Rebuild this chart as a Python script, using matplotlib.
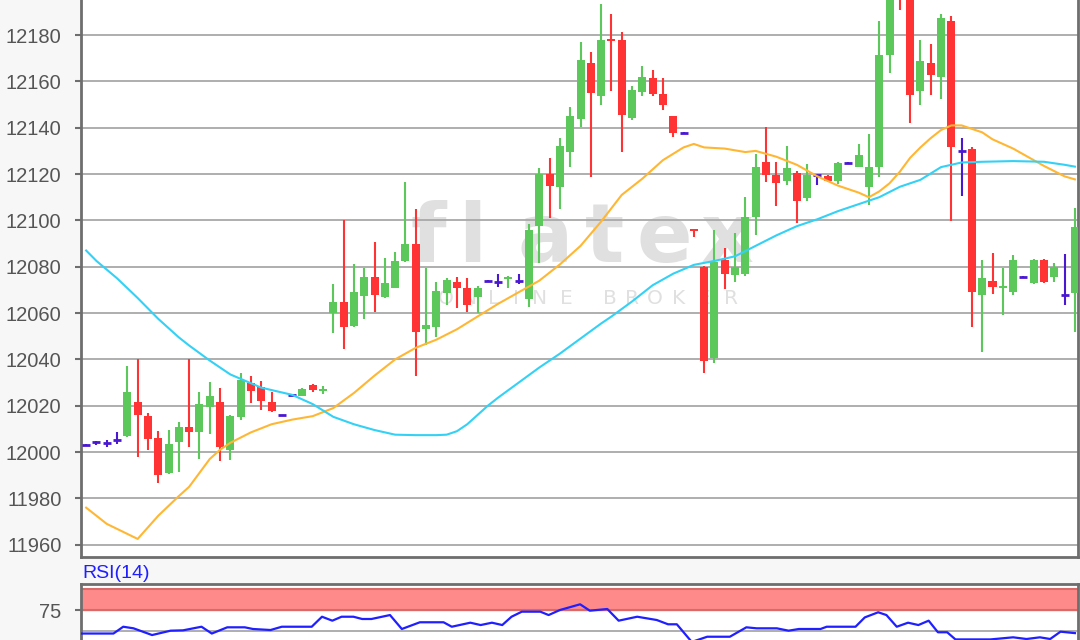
# Candlestick chart with two moving averages and RSI(14) panel
# flatex style intraday chart

import numpy as np
import matplotlib.pyplot as plt

plt.rcParams['font.family'] = ['Liberation Sans', 'DejaVu Sans']

# Candle data
opens = [12003, 12004.5, 12003.7, 12005, 12007, 12021.5, 12015.5, 12006, 11991, 12004.5,
         12011, 12008.5, 12019.6, 12021.5, 12001, 12015, 12030, 12028, 12021.5, 12016,
         12024.6, 12024, 12029, 12026.5, 12060, 12064.6, 12054.4, 12067.5, 12075.7, 12066.8,
         12071, 12082.4, 12089.6, 12053, 12054, 12068.5, 12073.5, 12070.7, 12066.8, 12074,
         12073.5, 12074.5, 12073.8, 12066, 12097.7, 12120, 12114.3, 12129.6, 12143.6, 12168,
         12153.8, 12178.3, 12177.8, 12144, 12155.5, 12161.3, 12154.4, 12145, 12137.8, 12096,
         12080, 12040.4, 12083, 12076.4, 12076.8, 12101.3, 12125, 12119.6, 12117.1, 12120.3,
         12109.5, 12119.6, 12119, 12117, 12124.9, 12123.2, 12114.5, 12123.2, 12171.4, 12203,
         12200, 12156, 12168, 12161.7, 12186.2, 12130, 12131, 12067.8, 12074, 12070.7,
         12069.2, 12075.7, 12073.1, 12083, 12075.4, 12067.8, 12068.5]
highs = [12003.5, 12004.6, 12005, 12008.7, 12037, 12040, 12017, 12009, 12009.5, 12013,
         12040, 12026, 12030.3, 12027.5, 12016, 12034, 12033, 12030.5, 12026, 12016.2,
         12024.8, 12027.5, 12029.3, 12028.7, 12072.4, 12100, 12081, 12079.3, 12090.5, 12083.6,
         12086.2, 12116.4, 12105, 12079.3, 12073.5, 12075, 12075.5, 12075, 12071.7, 12074.2,
         12076.8, 12075.8, 12076.8, 12098.3, 12122.5, 12126.8, 12135.7, 12148.8, 12177, 12172.8,
         12193.4, 12189, 12181.2, 12158, 12166.6, 12165, 12161.3, 12145, 12138, 12096.2,
         12080.5, 12095.8, 12088, 12094.7, 12110.2, 12128.6, 12140.4, 12125, 12132.1, 12121.4,
         12124.3, 12119.8, 12119.5, 12125, 12125.1, 12133, 12137.3, 12186.2, 12206, 12206,
         12203, 12177.8, 12176, 12189, 12188.2, 12135.4, 12131.5, 12083, 12086, 12079.3,
         12085, 12075.9, 12083.2, 12083.2, 12081.7, 12085.5, 12105.2]
lows = [12002.5, 12003, 12002, 12003.4, 12006.3, 11998, 12001, 11986.5, 11990.5, 11991.5,
        12002, 11997, 12008, 11996, 11996.5, 12014, 12021, 12018, 12017.5, 12015.8,
        12024.4, 12024, 12026, 12025, 12051.5, 12044.3, 12054, 12057.3, 12060.3, 12066.5,
        12070.8, 12082, 12033, 12046, 12049.5, 12063.4, 12062, 12060.6, 12060, 12073.8,
        12071.1, 12071, 12072.5, 12062.5, 12081.4, 12101, 12104.8, 12123, 12140.4, 12118.8,
        12149.8, 12156, 12129.6, 12143.3, 12153.7, 12153.7, 12147.6, 12135.8, 12137.6, 12092.7,
        12034, 12038.3, 12070.2, 12073.5, 12076, 12093.7, 12116.7, 12106, 12115.2, 12099,
        12108.3, 12115.2, 12116.5, 12115.7, 12124.7, 12123, 12106.6, 12118.8, 12163.5, 12191,
        12142, 12149.8, 12154, 12152.2, 12099.8, 12110.5, 12053.8, 12043, 12068.2, 12059,
        12067.8, 12075.5, 12072.5, 12072.8, 12073.5, 12063.4, 12051.9]
closes = [12003, 12004.5, 12003.7, 12005, 12026, 12016, 12005.5, 11990, 12003.3, 12011,
          12008.5, 12020.7, 12024.3, 12002, 12015.5, 12031, 12026.5, 12022, 12017.7, 12016,
          12024.6, 12027.2, 12027, 12027.2, 12064.6, 12054, 12069, 12075.7, 12067.8, 12073,
          12082.6, 12089.6, 12052, 12055, 12069.6, 12074.2, 12071, 12063.4, 12070.7, 12074,
          12073.5, 12075.7, 12073.8, 12095.8, 12120, 12115, 12132.2, 12145, 12169.2, 12154.8,
          12177.8, 12177.4, 12145.5, 12156.3, 12162, 12154.5, 12149.8, 12137.8, 12137.8, 12095.5,
          12039.3, 12082.1, 12077, 12080, 12101.6, 12123.2, 12119.6, 12116.3, 12122.5, 12108.5,
          12119.6, 12119.6, 12117.2, 12124.9, 12124.9, 12128.2, 12123.2, 12171.4, 12200, 12196,
          12154, 12169, 12162.7, 12187.2, 12131.8, 12130, 12069, 12075, 12071.1, 12071.7,
          12083, 12075.7, 12083, 12073.5, 12080, 12067.8, 12097.3]

# Moving averages (candle index, value)
ma_fast_idx = [0, 2, 5, 7, 9, 10, 11, 12, 13, 14, 16, 18, 20, 22, 24, 26, 28, 30, 32, 34,
               36, 38, 40, 42, 44, 46, 48, 50, 52, 54, 56, 58, 59, 60, 62, 64, 65, 67, 69, 71,
               73, 75, 76, 77, 78, 79, 80, 81, 82, 83, 84, 85, 87, 88, 90, 92, 93, 95, 96]
ma_fast = [11976, 11969, 11962.5, 11972.5, 11981, 11985, 11991, 11997, 12001, 12004,
           12008.5, 12012, 12014, 12015.5, 12019, 12025.5, 12033, 12040, 12045, 12048.5,
           12053, 12058.5, 12064, 12069, 12074, 12081, 12089, 12099.5, 12111, 12118,
           12126, 12131.5, 12133, 12131.5, 12131, 12129.5, 12130, 12127.5, 12124, 12119,
           12115, 12112, 12110, 12112.5, 12116, 12121, 12127, 12131.5, 12135.5, 12139,
           12141, 12141, 12138, 12135, 12131, 12126, 12123.5, 12119, 12117.7]
ma_slow_idx = [0, 1, 3, 5, 7, 9, 10, 12, 14, 17, 20, 22, 24, 26, 28, 30, 32, 34, 35, 36,
               37, 38, 39, 40, 42, 44, 46, 48, 50, 51, 53, 55, 57, 59, 61, 63, 65, 67, 69, 71,
               73, 75, 77, 79, 81, 83, 85, 87, 90, 93, 95, 96]
ma_slow = [12087, 12082.5, 12075, 12066.5, 12057.5, 12049.5, 12046, 12039.5, 12033.5, 12027.8,
           12024.7, 12020.7, 12015.2, 12012, 12009.5, 12007.5, 12007.3, 12007.3, 12007.5, 12009,
           12012, 12016, 12020, 12023.5, 12030, 12036.5, 12042.5, 12049, 12055.5, 12058.5,
           12065, 12072, 12077, 12080.8, 12082.5, 12084.5, 12089, 12093.5, 12097.5, 12100.5,
           12104, 12107, 12110, 12114.5, 12117.5, 12123, 12125, 12125.3, 12125.6, 12125.3,
           12124, 12123.2]

# RSI(14)
rsi_idx = [-0.4, 2.65, 3.6, 4.6, 6.4, 8.2, 9.4, 11.2, 12.2, 13.7, 15.4, 16.2, 17.9, 19.0,
           21.9, 22.9, 23.9, 24.8, 25.95, 26.8, 27.7, 29.5, 30.65, 32.4, 34.7, 35.5, 37.3,
           38.3, 39.4, 40.4, 41.3, 42.3, 44.1, 44.9, 46.0, 47.96, 48.9, 50.6, 51.7, 53.5,
           55.4, 56.5, 57.35, 58.8, 60.3, 62.5, 64.1, 65.1, 67.06, 68.2, 69.2, 71.3, 71.9,
           74.7, 75.6, 76.9, 77.7, 78.7, 79.8, 80.8, 81.8, 82.7, 83.6, 84.4, 87.8, 90.0,
           91.3, 92.6, 93.6, 94.6, 96.0]
rsi = [47.0, 47.0, 55.1, 53.2, 45.2, 50.4, 50.8, 55.1, 47.0, 54.4, 54.4, 52.4, 51.2, 55.1,
       55.1, 67.0, 62.3, 67.0, 67.0, 64.3, 64.3, 69.0, 52.4, 60.4, 60.4, 55.1, 59.9,
       57.1, 59.9, 57.1, 67.0, 73.0, 73.0, 69.0, 75.0, 81.8, 74.2, 76.2, 62.3, 67.0,
       63.1, 58.0, 58.0, 37.0, 43.2, 43.2, 54.4, 53.2, 53.2, 50.4, 52.4, 52.4, 55.1,
       55.1, 66.2, 72.3, 69.0, 55.1, 59.9, 57.1, 62.3, 48.5, 48.5, 40.0, 40.0, 42.5,
       40.5, 42.5, 40.5, 49.2, 47.5]

green = '#5cc85c'
red = '#ff3333'
doji = '#4a18d0'
grid_col = '#a8a8a8'
spine_col = '#6e6e6e'

fig = plt.figure(figsize=(10.8, 6.4), dpi=100, facecolor='#f7f7f7')

# main price panel (top runs off the picture)
ax = fig.add_axes([81/1080, 83/640, 997/1080, 597/640])
ax.set_facecolor('white')
x = np.arange(len(opens))
o = np.array(opens); h = np.array(highs); l = np.array(lows); c = np.array(closes)
cols = np.where(c > o, green, np.where(c < o, red, doji))
w = 0.78

ax.vlines(x, l, h, colors=cols, lw=1.5, zorder=3)
body = c != o
ax.bar(x[body], np.maximum(np.abs(c - o)[body], 0.8), bottom=np.minimum(o, c)[body],
       width=w, color=cols[body], zorder=4)
ax.hlines(c[~body], x[~body] - w/2, x[~body] + w/2, colors=doji, lw=2, zorder=4)

ax.plot(ma_fast_idx, ma_fast, color='#ffb733', lw=1.5, zorder=5)
ax.plot(ma_slow_idx, ma_slow, color='#33d1f5', lw=1.5, zorder=5)

ax.set_xlim(-0.5, 96.3)
ax.set_ylim(11954.7, 12212.4)
ax.set_yticks(np.arange(11960, 12200, 20))
ax.set_xticks([])
ax.grid(axis='y', color=grid_col, lw=1.3)
ax.set_axisbelow(True)
ax.tick_params(axis='y', length=4, width=1.5, color=spine_col, pad=10,
               labelsize=14.5, labelcolor='#555555')
for s in ['left', 'bottom', 'right']:
    ax.spines[s].set_color(spine_col)
    ax.spines[s].set_linewidth(2)
ax.spines['top'].set_visible(False)

# watermark
for ch, px in zip('flatex', [428, 472, 545, 604, 664, 727]):
    ax.text(px/1080, 1 - 262/640, ch, transform=fig.transFigure, fontsize=59,
            fontweight='bold', family='DejaVu Sans', color='#e0e0e0',
            ha='center', va='baseline', zorder=0.2)
for ch, px in zip('ONLINEBROKER', [446, 470, 494, 516, 540, 566, 610, 632, 655, 679, 704, 731]):
    ax.text(px/1080, 1 - 298/640, ch, transform=fig.transFigure, fontsize=14.5,
            family='DejaVu Sans', color='#e0e0e0', ha='center', va='center', zorder=0.2)

# RSI panel (bottom runs off the picture)
ax2 = fig.add_axes([81/1080, -60/640, 997/1080, 116/640])
ax2.set_facecolor('white')
ax2.axhspan(75, 100, color='#ff8a8a', zorder=1)
ax2.axhline(100, color='#d86a6a', lw=1.5, zorder=2)
ax2.axhline(75, color='#d86a6a', lw=1.5, zorder=2)
ax2.axhline(50, color=grid_col, lw=1.3, zorder=1)
ax2.plot(rsi_idx, rsi, color='#1f1fff', lw=1.6, zorder=3)
ax2.set_xlim(-0.5, 96.3)
ax2.set_ylim(-32.1, 105.95)
ax2.set_xticks([])
ax2.set_yticks([75])
ax2.tick_params(axis='y', length=4, width=1.5, color=spine_col, pad=10,
                labelsize=14.5, labelcolor='#555555')
for s in ax2.spines.values():
    s.set_color(spine_col)
    s.set_linewidth(2)

fig.text(82/1080, 1 - 574/640, 'RSI(14)', color='#1f1fff', fontsize=14,
         ha='left', va='center')

plt.savefig('out.png', dpi=100, facecolor=fig.get_facecolor())
